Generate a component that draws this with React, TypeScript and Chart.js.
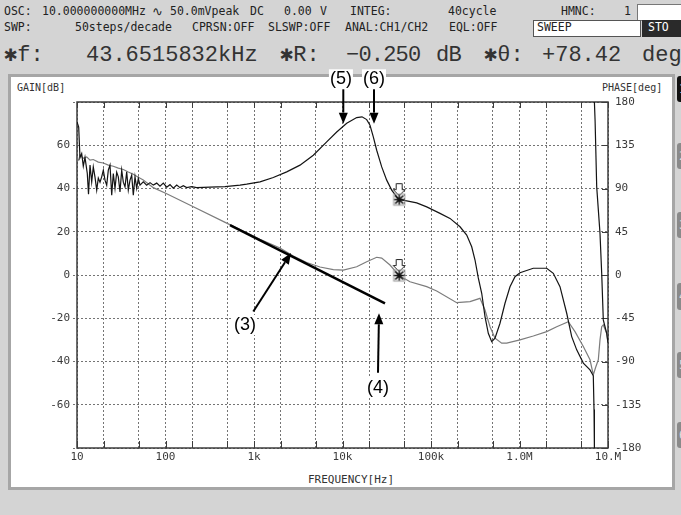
import React, { useEffect, useRef } from 'react';
import { Chart, registerables } from 'chart.js';

Chart.register(...registerables);

// ---- data ----
const phaseFreq = [10, 10.45, 10.81, 11.3, 11.78, 12.31, 13.07, 13.49, 14.03, 14.66, 15.28, 15.97, 16.7, 17.41, 18.19, 19.01, 19.83, 20.72, 21.66, 22.58, 23.6, 24.67, 25.72, 26.88, 28.09, 29.29, 30.61, 32.0, 33.37, 34.87, 36.44, 37.99, 39.71, 41.51, 43.27, 45.23, 47.27, 49.28, 51.51, 56.12, 61.33, 66.83, 72.8, 79.55, 86.67, 94.44, 103.2, 112.4, 122.5, 133.9, 145.8, 158.9, 173.6, 197.7, 225.1, 318.3, 470.1, 694.9, 827, 1169, 1652, 2342, 3310, 4679, 6629, 8602, 11160, 14470, 16610, 18770, 20450, 22290, 24350, 27740, 31580, 35960, 40960, 43651.6, 53140, 68930, 89420, 126400, 163900, 212700, 253200, 288400, 314300, 342300, 374100, 407600, 444100, 485300, 528800, 602100, 685800, 780900, 889500, 1013000, 1432000, 2029000, 2409000, 2868000, 3415000, 3889000, 4430000, 5261000, 6261000, 6822000, 6950000, 7020000, 7020000, 7020000, 7150000, 7453000, 8121000, 8488000, 8849000, 9667000, 10000000];
const phaseDeg: (number | null)[] = [159.2, 154.0, 122, 126.4, 113.2, 122.3, 105.6, 84.1, 114.3, 96.9, 112.5, 101.8, 88.3, 100.8, 96.6, 102.1, 109.1, 98.7, 93.5, 109.1, 114.3, 83.1, 105.6, 90.1, 107.0, 102.1, 86.5, 109.1, 96.6, 91.7, 107.3, 88.3, 98.7, 103.9, 83.1, 102.1, 90.1, 100.4, 93.5, 96.9, 93.5, 96.1, 93.5, 95.6, 92.4, 95.6, 91.4, 94.0, 90.4, 93.5, 90.9, 93.0, 90.9, 91.9, 90.9, 91.4, 91.9, 93.5, 94.5, 96.9, 101.5, 107.3, 114.3, 124.6, 138.5, 148.8, 157.9, 163.8, 164.6, 161.7, 155.8, 143.7, 129.8, 112.5, 98.7, 88.3, 81.3, 78.42, 77.2, 75.1, 70.9, 64.1, 58.9, 50.2, 41.5, 29.4, 15.6, -3.1, -19.0, -43.3, -60.6, -69.3, -65.7, -50.2, -29.4, -12.2, -1.8, 2.4, 7.0, 7.0, 1.8, -12.2, -39.8, -64.1, -77.9, -91.7, -98.7, -104.9, -140, -180, null, 180, 160, 91.7, 43.3, 1.8, -46.7, -60.6, -70.6];

const gainFreq = [10, 10.45, 10.81, 11.78, 12.87, 14.03, 15.28, 17.41, 19.83, 22.58, 25.72, 29.29, 33.37, 37.99, 43.27, 49.28, 56.12, 72.8, 103.2, 206.1, 491.4, 1169, 1967, 2781, 3939, 5569, 7870, 10210, 14470, 18770, 24350, 27740, 34400, 43651.6, 57900, 89420, 116000, 195200, 275900, 357900, 407600, 464200, 528800, 629400, 716900, 1013000, 1432000, 2029000, 2632000, 3560000, 4238000, 5261000, 6261000, 6822000, 7224000, 7771000, 8121000, 8488000, 8849000, 9667000, 10000000];
const gainDb = [53.9, 53.1, 55.4, 54.0, 54.6, 53.1, 53.4, 52.2, 51.8, 50.8, 50.3, 49.4, 48.8, 47.6, 46.6, 45.2, 43.9, 40.4, 37.6, 31.6, 24.0, 16.5, 12.5, 8.8, 5.8, 3.7, 2.5, 2.3, 3.8, 6.1, 8.2, 7.8, 4.6, -0.25, -3.1, -5.4, -7.4, -12.8, -12.3, -10.8, -16.2, -23.9, -29.2, -31.5, -31.5, -30.0, -28.2, -26.2, -23.9, -21.6, -26.2, -33.1, -39.2, -46.2, -42.9, -39.2, -30.0, -23.9, -23.1, -26.9, -31.4];

const asymFreq = [535.6, 30210];
const asymDb = [23.1, -13.1];

const markerFreq = [43651.6];
const markerGain = [-0.25];
const markerPhase = [78.42];

const xTickValues = [10, 20, 50, 100, 200, 500, 1e3, 2e3, 5e3, 1e4, 2e4, 5e4, 1e5, 2e5, 5e5, 1e6, 2e6, 5e6, 1e7];
const xTickLabels = ['10', '', '', '100', '', '', '1k', '', '', '10k', '', '', '100k', '', '', '1.0M', '', '', '10.M'];
const gainTicks = [-80, -60, -40, -20, 0, 20, 40, 60, 80];
const gainTickLabels = ['', '-60', '-40', '-20', '0', '20', '40', '60', ''];
const phaseTicks = [-180, -135, -90, -45, 0, 45, 90, 135, 180];
const phaseTickLabels = ['-180', '-135', '-90', '-45', '0', '45', '90', '135', '180'];

const noteLabels = ['(3)', '(4)', '(5)', '(6)'];
const noteTipFreq = [2618, 25850, 10210, 22700];
const noteTipDb = [10.2, -17.7, 70.0, 70.0];
const noteTailFreq = [982, 25180, 10210, 22700];
const noteTailDb = [-16.9, -45.2, 86.3, 86.3];
const noteTextFreq = [791, 25180, 9600, 22700];
const noteTextDb = [-23.1, -52.2, 90.5, 90.5];

const MONO = '"DejaVu Sans Mono", monospace';
const BIG = '"Liberation Mono", "DejaVu Sans Mono", monospace';

function makeMarker(): HTMLCanvasElement {
  const c = document.createElement('canvas');
  c.width = 17;
  c.height = 37;
  const g = c.getContext('2d')!;
  const cx = 8.5, cy = 18.5;
  g.fillStyle = '#fff';
  g.strokeStyle = '#222';
  g.lineWidth = 1;
  g.beginPath();
  g.moveTo(cx - 3, 2.5);
  g.lineTo(cx + 3, 2.5);
  g.lineTo(cx + 3, 8.5);
  g.lineTo(cx + 6, 8.5);
  g.lineTo(cx, 14.5);
  g.lineTo(cx - 6, 8.5);
  g.lineTo(cx - 3, 8.5);
  g.closePath();
  g.fill();
  g.stroke();
  g.strokeStyle = '#999';
  g.strokeRect(cx - 5.5, cy - 5.5, 11, 11);
  g.strokeStyle = '#111';
  g.lineWidth = 1.6;
  g.beginPath();
  g.moveTo(cx - 5, cy); g.lineTo(cx + 5, cy);
  g.moveTo(cx, cy - 5); g.lineTo(cx, cy + 5);
  g.moveTo(cx - 4, cy - 4); g.lineTo(cx + 4, cy + 4);
  g.moveTo(cx + 4, cy - 4); g.lineTo(cx - 4, cy + 4);
  g.stroke();
  return c;
}

const framePlugin = {
  id: 'frame',
  beforeDatasetsDraw(chart: any) {
    const { ctx, chartArea: a, scales } = chart;
    ctx.save();
    ctx.strokeStyle = '#3c3c3c';
    ctx.lineWidth = 1.5;
    ctx.strokeRect(a.left, a.top, a.right - a.left, a.bottom - a.top);
    ctx.lineWidth = 1;
    ctx.beginPath();
    xTickValues.forEach((v) => {
      const px = Math.round(scales.x.getPixelForValue(v)) + 0.5;
      ctx.moveTo(px, a.bottom);
      ctx.lineTo(px, a.bottom - 7);
      ctx.moveTo(px, a.top);
      ctx.lineTo(px, a.top + 6);
    });
    phaseTicks.forEach((v) => {
      const py = Math.round(scales.y1.getPixelForValue(v)) + 0.5;
      ctx.moveTo(a.right - 6, py);
      ctx.lineTo(a.right, py);
    });
    ctx.stroke();
    ctx.restore();
  },
};

const notesPlugin = {
  id: 'notes',
  afterDatasetsDraw(chart: any) {
    const { ctx, scales } = chart;
    const sx = scales.x, sy = scales.y;
    ctx.save();
    ctx.strokeStyle = '#000';
    ctx.fillStyle = '#000';
    ctx.lineWidth = 2;
    for (let i = 0; i < noteLabels.length; i++) {
      const x1 = sx.getPixelForValue(noteTailFreq[i]);
      const y1 = sy.getPixelForValue(noteTailDb[i]);
      const x2 = sx.getPixelForValue(noteTipFreq[i]);
      const y2 = sy.getPixelForValue(noteTipDb[i]);
      const ang = Math.atan2(y2 - y1, x2 - x1);
      const hl = 11, hw = 4.5;
      const bx = x2 - hl * Math.cos(ang), by = y2 - hl * Math.sin(ang);
      ctx.strokeStyle = '#000';
      ctx.fillStyle = '#000';
      ctx.beginPath();
      ctx.moveTo(x1, y1);
      ctx.lineTo(bx, by);
      ctx.stroke();
      ctx.beginPath();
      ctx.moveTo(x2, y2);
      ctx.lineTo(bx + hw * Math.sin(ang), by - hw * Math.cos(ang));
      ctx.lineTo(bx - hw * Math.sin(ang), by + hw * Math.cos(ang));
      ctx.closePath();
      ctx.fill();
      const tx = sx.getPixelForValue(noteTextFreq[i]);
      const ty = sy.getPixelForValue(noteTextDb[i]);
      ctx.font = '18px "Liberation Sans", Arial, sans-serif';
      const w = ctx.measureText(noteLabels[i]).width;
      ctx.fillStyle = '#fff';
      ctx.fillRect(tx - w / 2 - 1, ty - 10, w + 2, 20);
      ctx.fillStyle = '#000';
      ctx.textAlign = 'center';
      ctx.textBaseline = 'middle';
      ctx.fillText(noteLabels[i], tx, ty);
    }
    ctx.restore();
  },
};

function Txt(props: { x: number; y: number; size: number; text: string; color?: string; family?: string; ls?: number }) {
  return (
    <span
      style={{
        position: 'absolute',
        left: props.x,
        top: props.y,
        fontSize: props.size,
        lineHeight: 1.2,
        whiteSpace: 'pre',
        color: props.color || '#222',
        fontFamily: props.family || MONO,
        letterSpacing: props.ls || 0,
      }}
    >
      {props.text}
    </span>
  );
}

export default function App() {
  const ref = useRef<HTMLCanvasElement>(null);

  useEffect(() => {
    document.body.style.margin = '0';
    document.body.style.background = '#d4d4d4';
    const canvas = ref.current!;
    const marker = makeMarker();
    const tickFont = { family: MONO, size: 11 };
    const gridColor = '#747474';
    const chart = new Chart(canvas, {
      type: 'scatter',
      data: {
        datasets: [
          {
            data: markerFreq.map((f, i) => ({ x: f, y: markerPhase[i] })),
            yAxisID: 'y1',
            showLine: false,
            pointStyle: marker as any,
            pointRadius: 5,
          },
          {
            data: markerFreq.map((f, i) => ({ x: f, y: markerGain[i] })),
            yAxisID: 'y',
            showLine: false,
            pointStyle: marker as any,
            pointRadius: 5,
          },
          {
            data: asymFreq.map((f, i) => ({ x: f, y: asymDb[i] })),
            yAxisID: 'y',
            showLine: true,
            borderColor: '#000',
            borderWidth: 2.5,
            pointRadius: 0,
          },
          {
            data: phaseFreq.map((f, i) => ({ x: f, y: phaseDeg[i] as any })),
            yAxisID: 'y1',
            showLine: true,
            spanGaps: false,
            borderColor: '#141414',
            borderWidth: 1.2,
            pointRadius: 0,
          },
          {
            data: gainFreq.map((f, i) => ({ x: f, y: gainDb[i] })),
            yAxisID: 'y',
            showLine: true,
            borderColor: '#7c7c7c',
            borderWidth: 1.2,
            pointRadius: 0,
          },
        ],
      },
      options: {
        animation: false,
        responsive: false,
        maintainAspectRatio: false,
        devicePixelRatio: 1,
        layout: { padding: { top: 102, left: 0, right: 0, bottom: 0 } },
        plugins: { legend: { display: false }, tooltip: { enabled: false } },
        scales: {
          x: {
            type: 'logarithmic',
            min: 10,
            max: 1e7,
            afterBuildTicks: (s: any) => {
              s.ticks = xTickValues.map((v) => ({ value: v }));
            },
            afterFit: (s: any) => {
              s.height = 67;
            },
            ticks: {
              autoSkip: false,
              maxRotation: 0,
              padding: 3,
              font: tickFont,
              color: '#3a3a3a',
              callback: (_v: any, i: number) => xTickLabels[i],
            },
            grid: { color: gridColor, lineWidth: 1, drawTicks: false },
            border: { display: false, dash: [2, 2] },
          },
          y: {
            position: 'left',
            min: -80,
            max: 80,
            afterBuildTicks: (s: any) => {
              s.ticks = gainTicks.map((v) => ({ value: v }));
            },
            afterFit: (s: any) => {
              s.width = 77;
            },
            ticks: {
              padding: 3,
              font: tickFont,
              color: '#3a3a3a',
              callback: (_v: any, i: number) => gainTickLabels[i],
            },
            grid: { color: gridColor, lineWidth: 1, drawTicks: true, tickLength: 4, tickBorderDash: [2, 2] },
            border: { display: false, dash: [2, 2] },
          },
          y1: {
            position: 'right',
            min: -180,
            max: 180,
            afterBuildTicks: (s: any) => {
              s.ticks = phaseTicks.map((v) => ({ value: v }));
            },
            afterFit: (s: any) => {
              s.width = 73;
            },
            ticks: {
              padding: 7,
              font: tickFont,
              color: '#3a3a3a',
              callback: (_v: any, i: number) => phaseTickLabels[i],
            },
            grid: { display: false, drawTicks: false },
            border: { display: false },
          },
        },
      } as any,
      plugins: [framePlugin, notesPlugin],
    });
    return () => chart.destroy();
  }, []);

  const tabs = [
    { y: 76, h: 26, bg: '#111', t: '1' },
    { y: 143, h: 26, bg: '#8a8a8a', t: '2' },
    { y: 212, h: 26, bg: '#8a8a8a', t: '3' },
    { y: 283, h: 27, bg: '#8a8a8a', t: '4' },
    { y: 352, h: 26, bg: '#8a8a8a', t: '5' },
    { y: 422, h: 26, bg: '#8a8a8a', t: '6' },
  ];

  return (
    <div style={{ position: 'relative', width: 681, height: 515, overflow: 'hidden', background: '#d4d4d4' }}>
      {/* header row 1 */}
      <Txt x={4} y={5} size={11.5} text="OSC:" />
      <Txt x={42} y={5} size={11.5} text="10.000000000MHz" />
      <Txt x={152} y={4} size={13} text="∿" family='"DejaVu Sans", sans-serif' />
      <Txt x={170} y={5} size={11.5} text="50.0mVpeak" />
      <Txt x={250} y={5} size={11.5} text="DC" />
      <Txt x={284} y={5} size={11.5} text="0.00" />
      <Txt x={320} y={5} size={11.5} text="V" />
      <Txt x={350} y={5} size={11.5} text="INTEG:" />
      <Txt x={448} y={5} size={11.5} text="40cycle" />
      <Txt x={561} y={5} size={11.5} text="HMNC:" />
      <Txt x={624} y={5} size={11.5} text="1" />
      <div style={{ position: 'absolute', left: 637, top: 4, width: 50, height: 15, background: '#fff', border: '1px solid #777' }} />
      {/* header row 2 */}
      <Txt x={4} y={21} size={11.5} text="SWP:" />
      <Txt x={75} y={21} size={11.5} text="50steps/decade" />
      <Txt x={192} y={21} size={11.5} text="CPRSN:OFF" />
      <Txt x={268} y={21} size={11.5} text="SLSWP:OFF" />
      <Txt x={345} y={21} size={11.5} text="ANAL:CH1/CH2" />
      <Txt x={449} y={21} size={11.5} text="EQL:OFF" />
      <div style={{ position: 'absolute', left: 533, top: 20, width: 106, height: 15, background: '#fff', border: '1px solid #555' }} />
      <Txt x={537} y={21} size={11.5} text="SWEEP" />
      <div style={{ position: 'absolute', left: 642, top: 20, width: 45, height: 17, background: '#2a2a2a' }} />
      <Txt x={648} y={21} size={11.5} text="STO" color="#fff" />
      {/* header row 3 */}
      <Txt x={4} y={43} size={22} text="✱f:" family={BIG} color="#333" />
      <Txt x={86} y={43} size={22} text="43.6515832kHz" family={BIG} color="#333" />
      <Txt x={280} y={43} size={22} text="✱R:" family={BIG} color="#333" />
      <Txt x={346} y={43} size={22} text="−0.250" family={BIG} color="#333" ls={-0.8} />
      <Txt x={436} y={43} size={22} text="dB" family={BIG} color="#333" ls={-0.8} />
      <Txt x={484} y={43} size={22} text="✱θ:" family={BIG} color="#333" />
      <Txt x={542} y={43} size={22} text="+78.42" family={BIG} color="#333" />
      <Txt x={642} y={43} size={22} text="deg" family={BIG} color="#333" />
      {/* panel */}
      <div style={{ position: 'absolute', left: 8, top: 74, width: 667, height: 416, boxSizing: 'border-box', background: '#fff', border: '3px solid #a6a6a6' }} />
      <Txt x={17} y={82} size={10} text="GAIN[dB]" color="#333" />
      <Txt x={602} y={82} size={10} text="PHASE[deg]" color="#333" />
      <Txt x={308} y={473} size={11} text="FREQUENCY[Hz]" color="#333" />
      {tabs.map((t, i) => (
        <div key={i} style={{ position: 'absolute', left: 677, top: t.y, width: 12, height: t.h, background: t.bg, borderRadius: 3, color: i === 0 ? '#fff' : '#ddd', fontFamily: MONO, fontSize: 12, paddingLeft: 2, boxSizing: 'border-box', lineHeight: t.h + 'px' }}>
          {t.t}
        </div>
      ))}
      <canvas ref={ref} width={681} height={515} style={{ position: 'absolute', left: 0, top: 0, width: 681, height: 515 }} />
    </div>
  );
}
